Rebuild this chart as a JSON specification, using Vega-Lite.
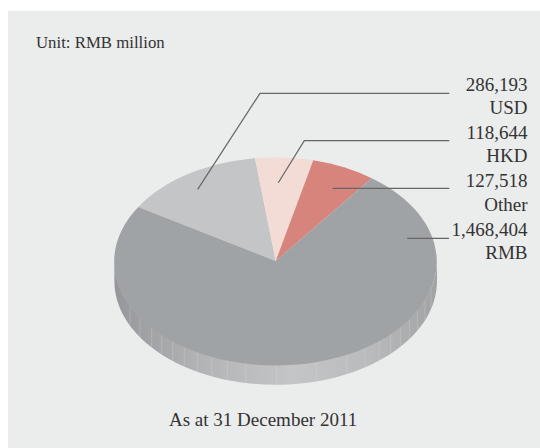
{
"$schema":"https://vega.github.io/schema/vega-lite/v6.json",
"width":532,"height":437,
"padding":{"left":8,"top":11,"right":0,"bottom":0},
"autosize":{"type":"none"},
"background":"#ffffff",
"view":{"fill":"#ebecec","stroke":null},
"config":{"text":{"font":"Liberation Serif"}},
"data":{"values":[
{"currency":"USD","amount":286193},
{"currency":"HKD","amount":118644},
{"currency":"Other","amount":127518},
{"currency":"RMB","amount":1468404}
]},
"layer":[
{"data":{"values":[{"part":"side"}]},
 "mark":{"type":"point","filled":true,"opacity":1,"size":4,
 "shape":"M-159.6 31.5 L-159.6 51.5 A161.3 103.8 0 0 0 163 51.5 L163 31.5 A161.3 103.8 0 0 1 -159.6 31.5 Z",
 "fill":{"gradient":"linear","x1":0,"y1":0,"x2":1,"y2":0,"stops":[{"offset":0,"color":"#95979a"},{"offset":0.25,"color":"#b0b2b4"},{"offset":0.55,"color":"#c4c5c7"},{"offset":0.8,"color":"#b8babc"},{"offset":1,"color":"#a0a2a4"}]}},
 "encoding":{}},
{"data":{"values":[{"part":"side seams"}]},
 "mark":{"type":"point","filled":false,"opacity":0.3,"size":4,"strokeWidth":0.8,"stroke":"#e6e7e8","fill":"transparent",
 "shape":"M-144 76v20M-134 87.6v20M-122.3 97.9v20M-112.3 104.9v20M-101.3 111.4v20M-89.7 117v20M-76.7 122.2v20M-62.3 126.8v20M-46.7 130.5v20M-28.3 133.5v20M2.3 135.3v20M42.7 131.9v20M72.7 124.7v20M91 118v20M105 111.2v20M116.7 104.3v20M126.3 97.4v20M135.3 89.6v20M143.3 81.2v20M151 70.7v20M157 59.5v20"},
 "encoding":{}},
{"mark":{"type":"point","filled":true,"opacity":1,"size":4},
 "encoding":{
  "shape":{"field":"currency","type":"nominal","legend":null,"scale":{"domain":["RMB","USD","HKD","Other"],"range":[
   "M1.7 31.5L97.7 -51.2A161.3 103.8 0 1 1 -135.7 -22.5Z",
   "M1.7 31.5L-135.7 -22.5A161.3 103.8 0 0 1 -19 -71.2Z",
   "M1.7 31.5L-19 -71.2A161.3 103.8 0 0 1 39.3 -69.2Z",
   "M1.7 31.5L39.3 -69.2A161.3 103.8 0 0 1 97.7 -51.2Z"]}},
  "color":{"field":"currency","type":"nominal","legend":null,"scale":{"domain":["RMB","USD","HKD","Other"],"range":["#a0a3a5","#c3c5c6","#f3dbd6","#d6847c"]}}
 }},
{"mark":{"type":"point","filled":false,"opacity":1,"size":4,"strokeWidth":1.2,"stroke":"#666666","fill":"transparent"},
 "encoding":{
  "shape":{"field":"currency","type":"nominal","legend":null,"scale":{"domain":["USD","HKD","Other","RMB"],"range":[
   "M-76.3 -40.2L-14 -136.2L175.3 -136.2",
   "M4.3 -46.8L30.3 -88.8L175.3 -88.8",
   "M58.7 -41.2L175.3 -41.2",
   "M133.3 8.8L175 8.8"]}}
 }},
{"mark":{"type":"text","align":"right","baseline":"alphabetic","fontSize":19,"fill":"#333333","x":519.5},
 "encoding":{
  "y":{"field":"currency","type":"nominal","axis":null,"scale":{"domain":["USD","HKD","Other","RMB"],"range":[80,224.7],"padding":0}},
  "text":{"field":"amount","type":"quantitative","format":",d"}
 }},
{"mark":{"type":"text","align":"right","baseline":"alphabetic","fontSize":19,"fill":"#333333","x":519.5},
 "encoding":{
  "y":{"field":"currency","type":"nominal","axis":null,"scale":{"domain":["USD","HKD","Other","RMB"],"range":[103,248],"padding":0}},
  "text":{"field":"currency","type":"nominal"}
 }},
{"data":{"values":[{"note":"Unit: RMB million","size":"small"},{"note":"As at 31 December 2011","size":"large"}]},
 "mark":{"type":"text","align":"left","baseline":"alphabetic","fill":"#333333"},
 "encoding":{
  "x":{"field":"note","type":"nominal","axis":null,"scale":{"domain":["Unit: RMB million","As at 31 December 2011"],"range":[28,161],"padding":0}},
  "y":{"field":"note","type":"nominal","axis":null,"scale":{"domain":["Unit: RMB million","As at 31 December 2011"],"range":[37.3,415],"padding":0}},
  "size":{"field":"size","type":"nominal","legend":null,"scale":{"domain":["small","large"],"range":[16.8,19]}},
  "text":{"field":"note","type":"nominal"}
 }}
],
"resolve":{"scale":{"x":"independent","y":"independent","shape":"independent","color":"independent","size":"independent"}}
}
